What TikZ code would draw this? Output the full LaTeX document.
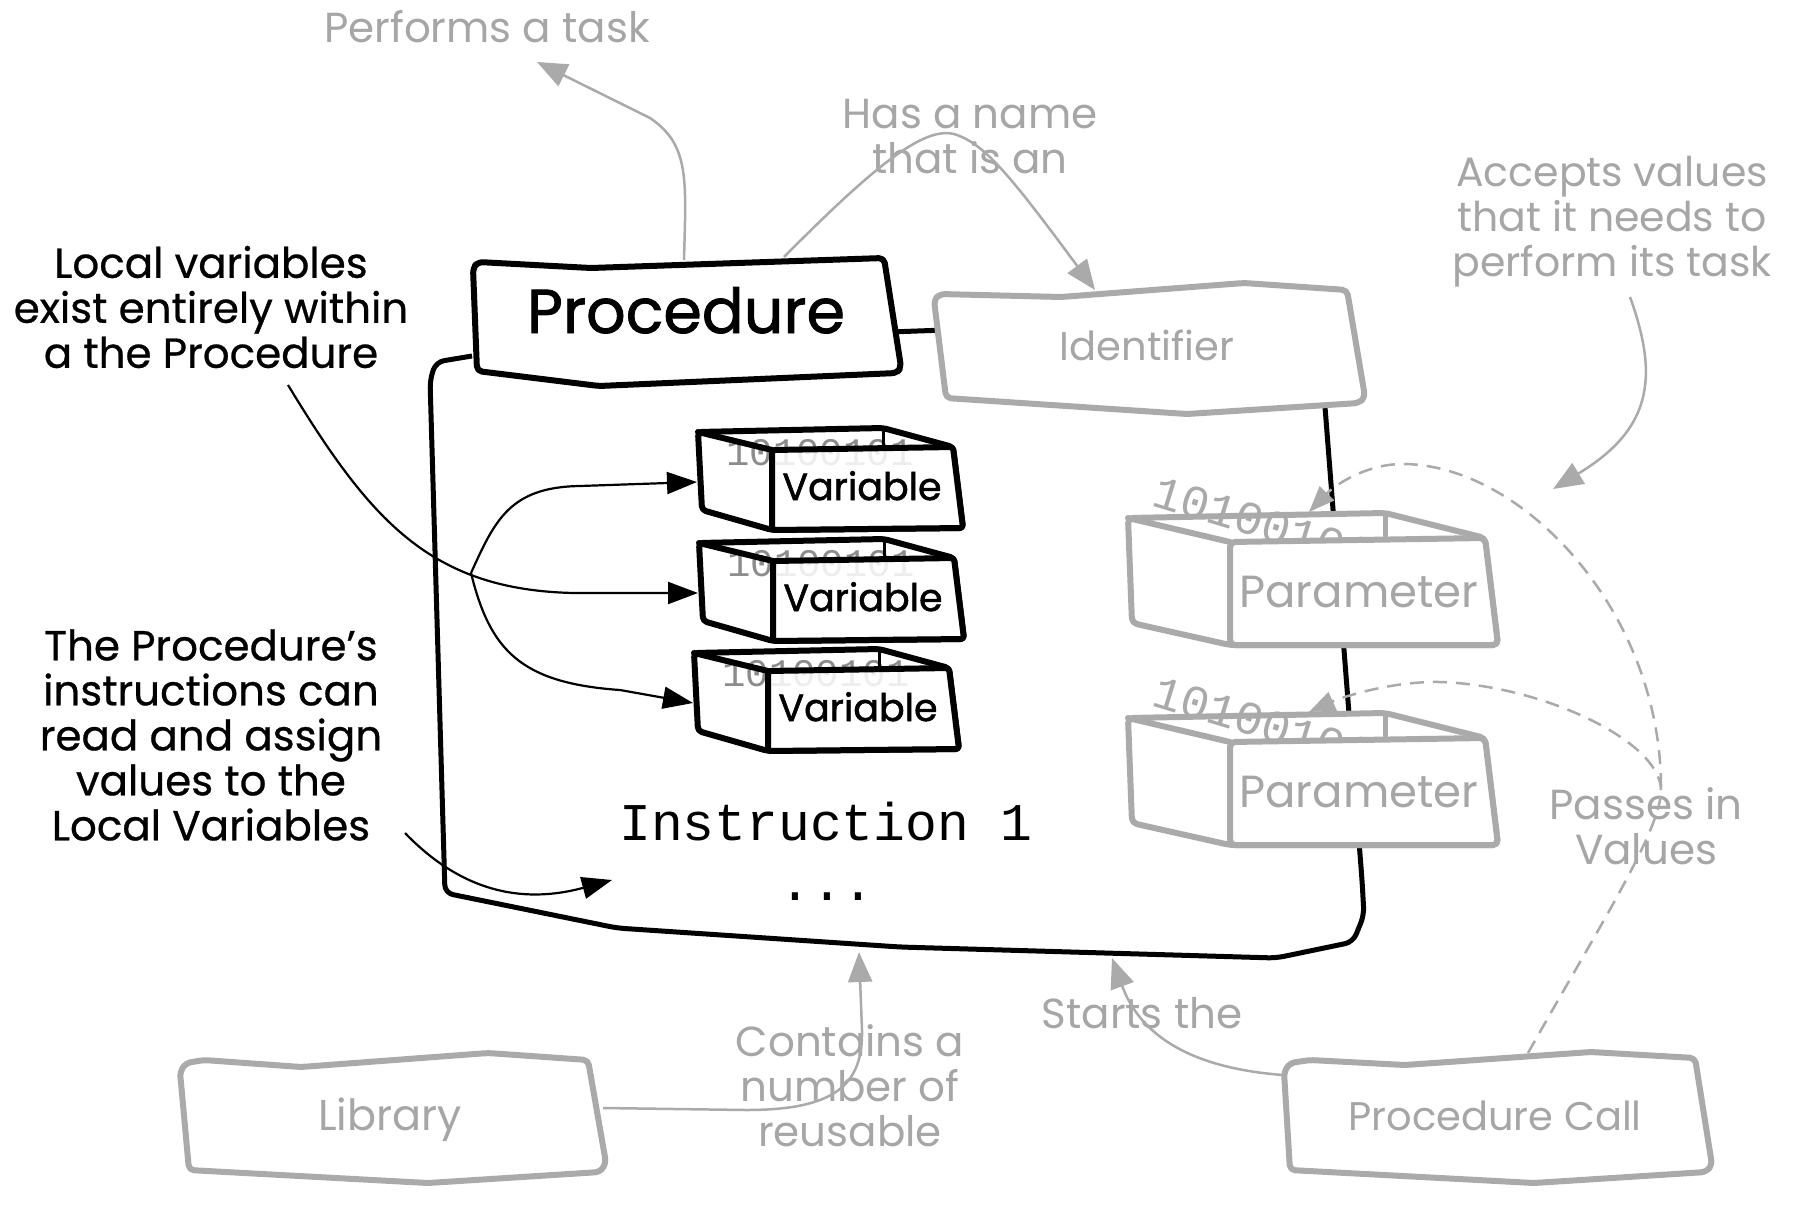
\documentclass[tikz,border=0pt]{standalone}
\usepackage{fontspec}
\setmainfont{Poppins}
\newfontfamily\hwm{Poppins}[FakeBold=0.6]
\newfontfamily\hwb{Poppins}[FakeBold=1.4]
\newfontfamily\monof{Liberation Mono}
\usetikzlibrary{arrows.meta}
\definecolor{lg}{HTML}{AAAAAA}
\definecolor{lgt}{HTML}{A6A6A6}
\begin{document}
\begin{tikzpicture}[x=1pt,y=-1pt,
  boxk/.style={draw=black,line width=6pt,fill=white,rounded corners=5pt,line join=round},
  boxg/.style={draw=lg,line width=6pt,fill=white,rounded corners=5pt,line join=round},
  gtxt/.style={text=lgt,font=\fontsize{42}{45}\selectfont,align=center,inner sep=0pt},
  ktxt/.style={text=black,font=\hwm\fontsize{42}{45}\selectfont,align=center,inner sep=0pt},
  glbl/.style={text=lgt,font=\fontsize{40}{44}\selectfont,anchor=base,inner sep=0pt},
  garr/.style={draw=lg,line width=2.5pt,-{Triangle[length=30pt,width=24pt]}},
  karr/.style={draw=black,line width=2.2pt,-{Triangle[length=30pt,width=22pt]}},
  darr/.style={draw=lg,line width=2.5pt,dash pattern=on 14pt off 9pt,-{Triangle[length=26pt,width=20pt]}},
  varbox/.pic={
    \path[boxk,rounded corners=4pt] (-74,-18) -- (111,-22) -- (181,-3) -- (191,78) -- (0,80) -- (-70,60) -- cycle;
    \node[font=\monof\fontsize{39}{39}\selectfont,text=gray!90,inner sep=0pt] (-bits) at (48,3) {10100101};
    \path[draw=black,line width=6pt,fill=white,fill opacity=0.85,line join=round,rounded corners=3pt] (0,0) -- (181,-3) -- (191,78) -- (0,80) -- cycle;
    \draw[line width=6pt,line cap=round] (-74,-18) -- (0,0);
    \draw[line width=3pt] (111,-22) -- (111,-2);
    \node[font=\hwb\fontsize{38}{40}\selectfont,anchor=base,inner sep=0pt] (-lbl) at (90,50) {Variable};
    \coordinate (-in) at (-75,32);
  },
  parbox/.pic={
    \path[boxg] (-102,-24) -- (155,-29) -- (255,-4) -- (268,103) -- (0,103) -- (-98,81) -- cycle;
    \node[font=\monof\fontsize{47}{47}\selectfont,text=lg,rotate=-17,anchor=base west,inner sep=0pt] (-bits) at (-80,-37) {10100101};
    \path[boxg] (0,0) -- (255,-4) -- (268,103) -- (0,103) -- cycle;
    \draw[lg,line width=6pt,line cap=round] (-102,-24) -- (0,0);
    \draw[lg,line width=5pt] (155,-29) -- (155,-3);
    \node[glbl,font=\fontsize{45}{48}\selectfont] (-lbl) at (129,65) {Parameter};
    \coordinate (-top) at (79,-30);
  }
]
\fill[white] (0,0) rectangle (1795,1207);
\useasboundingbox (0,0) rectangle (1795,1207);

% container of the procedure
\draw[line width=5pt,rounded corners=8pt,line join=round] (472,356) -- (436,362) -- (430,380) -- (445,893) -- (617,928) -- (900,947) -- (1276,958) -- (1353,942) -- (1364,915) -- (1362,880) -- (1325,407);
\coordinate (procR) at (890,332);
\coordinate (identL) at (945,330);
\draw[line width=5pt] (procR) -- (identL);

% Procedure box
\draw[boxk] (473,268) -- (478,262) -- (591,268) -- (884,258) -- (901,367) -- (897,373) -- (599,386) -- (477,371) -- cycle;
\node[anchor=base,font=\hwb\fontsize{62}{70}\selectfont,inner sep=0pt] (proc) at (686,333) {Procedure};

% Identifier box
\draw[boxg] (934,300) -- (940,294) -- (1061,297) -- (1244,283) -- (1347,290) -- (1365,397) -- (1359,403) -- (1187,414) -- (946,398) -- cycle;
\node[glbl] (ident) at (1147,360) {Identifier};

% variables and parameters
\pic (v1) at (772,450) {varbox};
\pic (v2) at (773,561) {varbox};
\pic (v3) at (768,671) {varbox};
\pic (p1) at (1230,542) {parbox};
\pic (p2) at (1230,742) {parbox};

% instructions
\node[font=\monof\fontsize{53}{60}\selectfont,anchor=base,inner sep=0pt] (instr) at (826,840) {Instruction 1};
\node[font=\monof\fontsize{53}{60}\selectfont,anchor=base,inner sep=0pt] (dots) at (827,900) {...};

% Library and Procedure Call
\draw[boxg] (180,1072) -- (186,1063) -- (204,1060) -- (301,1067) -- (488,1053) -- (588,1060) -- (606,1163) -- (600,1172) -- (428,1183) -- (189,1170) -- cycle;
\node[glbl,font=\fontsize{43}{46}\selectfont] (lib) at (390,1130) {Library};
\draw[boxg] (1284,1072) -- (1290,1063) -- (1310,1060) -- (1405,1065) -- (1591,1052) -- (1695,1058) -- (1712,1165) -- (1706,1172) -- (1534,1183) -- (1290,1170) -- cycle;
\node[glbl] (pcall) at (1495,1130) {Procedure Call};

% annotation texts
\node[gtxt,anchor=base] (perf) at (487,43) {Performs a task};
\node[gtxt] (hasname) at (970,137) {Has a name\\that is an};
\node[gtxt,font=\fontsize{41}{45}\selectfont] (acc) at (1612,222) {Accepts values\\that it needs to\\perform its task};
\node[ktxt] (lv) at (211,307) {Local variables\\exist entirely within\\a the Procedure};
\node[ktxt] (tp) at (211,735) {The Procedure’s\\instructions can\\read and assign\\values to the\\Local Variables};
\node[gtxt] (piv) at (1646,826) {Passes in\\Values};
\node[gtxt] (cont) at (850,1086) {Contains a\\number of\\reusable};
\node[gtxt,anchor=base] (starts) at (1142,1028) {Starts the};

% connector end points
\coordinate (procTopA) at (684,260);
\coordinate (perfIn) at (537,62);
\coordinate (procTopB) at (784,257);
\coordinate (identTop) at (1095,290);
\coordinate (accOut) at (1630,297);
\coordinate (accTip) at (1553,489);
\coordinate (lvsrc) at (288,385);
\coordinate (lvfork) at (471,573);
\coordinate (tpOut) at (405,833);
\coordinate (instrIn) at (612,880);
\coordinate (libR) at (603,1108);
\coordinate (contB1) at (859,952);
\coordinate (pcL) at (1283,1075);
\coordinate (contB2) at (1112,958);
\coordinate (pcT) at (1528,1053);
\coordinate (pvfork) at (1661,790);

% connectors
\draw[garr] (procTopA) .. controls (686,180) and (690,145) .. (650,118) -- (perfIn);
\draw[garr] (procTopB) .. controls (880,160) and (928,124) .. (957,135) .. controls (985,145) and (1010,175) .. (identTop);
\draw[garr] (accOut) .. controls (1660,380) and (1650,430) .. (accTip);
\draw[karr] (lvsrc) .. controls (370,520) and (430,590) .. (574,593) -- (v2-in);
\draw[karr] (lvfork) .. controls (495,520) and (510,487) .. (580,486) -- (v1-in);
\draw[karr] (lvfork) .. controls (490,650) and (520,683) .. (620,690) -- (v3-in);
\draw[karr] (tpOut) .. controls (460,890) and (520,905) .. (instrIn);
\draw[garr] (libR) -- (746,1110) .. controls (835,1110) and (863,1085) .. (862,1030) -- (contB1);
\draw[garr] (pcL) .. controls (1190,1068) and (1140,1035) .. (contB2);
\draw[darr] (pcT) .. controls (1600,925) and (1661,830) .. (pvfork) .. controls (1662,610) and (1520,462) .. (1400,464) .. controls (1365,465) and (1335,485) .. (p1-top);
\draw[darr] (pvfork) .. controls (1660,740) and (1540,685) .. (1440,682) .. controls (1390,681) and (1340,698) .. (p2-top);
\end{tikzpicture}
\end{document}
